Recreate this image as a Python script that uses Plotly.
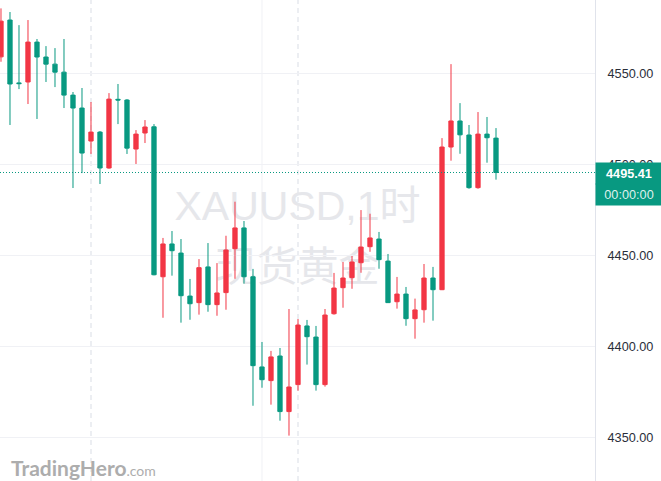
import plotly.graph_objects as go

# hourly XAUUSD candles, left to right (red = up, green = down)
opens = [4558.9, 4579.1, 4544.6, 4545.1, 4567.0, 4558.8, 4554.9, 4550.5, 4537.9, 4530.8,
         4512.7, 4517.6, 4497.9, 4535.6, 4535.2, 4508.3, 4517.1, 4520.5, 4438.2, 4456.2,
         4451.2, 4427.6, 4424.0, 4443.6, 4422.9, 4429.5, 4453.6, 4465.0, 4438.2, 4388.7,
         4381.2, 4394.7, 4364.2, 4379.0, 4411.2, 4405.1, 4379.0, 4417.9, 4432.2, 4437.7,
         4445.9, 4454.7, 4458.9, 4446.8, 4424.5, 4428.7, 4415.2, 4420.1, 4437.5, 4431.1,
         4509.4, 4523.7, 4516.0, 4487.1, 4516.5, 4514.3]
highs = [4585.5, 4583.5, 4576.3, 4579.1, 4568.7, 4564.8, 4563.7, 4568.7, 4539.6, 4541.8,
         4534.1, 4518.2, 4539.0, 4544.0, 4535.7, 4518.7, 4524.2, 4522.0, 4459.5, 4463.3,
         4458.9, 4437.0, 4447.9, 4456.7, 4445.7, 4460.7, 4479.4, 4468.8, 4442.5, 4402.4,
         4397.5, 4399.1, 4420.5, 4415.0, 4414.5, 4411.2, 4420.5, 4440.3, 4446.3, 4449.6,
         4474.8, 4472.8, 4462.8, 4450.7, 4438.1, 4432.6, 4426.2, 4445.2, 4443.6, 4514.3,
         4554.9, 4533.5, 4521.5, 4528.6, 4525.9, 4519.8]
lows = [4556.2, 4521.5, 4541.2, 4533.0, 4524.8, 4545.1, 4542.3, 4530.8, 4486.9, 4495.1,
        4505.6, 4489.1, 4497.5, 4522.0, 4505.6, 4500.1, 4511.6, 4439.0, 4415.7, 4438.8,
        4413.0, 4414.6, 4417.4, 4419.0, 4416.8, 4420.1, 4437.1, 4434.4, 4367.4, 4377.3,
        4368.0, 4359.2, 4351.0, 4375.7, 4390.0, 4375.7, 4377.9, 4417.4, 4421.2, 4431.6,
        4440.4, 4451.9, 4442.6, 4423.8, 4420.7, 4411.3, 4404.2, 4413.0, 4414.1, 4430.9,
        4501.9, 4505.7, 4486.5, 4486.5, 4500.8, 4491.5]
closes = [4578.5, 4544.0, 4544.2, 4567.0, 4558.8, 4554.9, 4550.5, 4537.9, 4530.8, 4506.1,
          4517.6, 4497.9, 4535.7, 4535.2, 4508.8, 4516.5, 4520.4, 4439.3, 4456.2, 4452.5,
          4427.8, 4423.4, 4443.2, 4422.9, 4429.3, 4452.9, 4465.0, 4438.2, 4389.4, 4381.7,
          4394.2, 4364.2, 4377.7, 4411.7, 4405.3, 4379.0, 4417.2, 4432.0, 4437.5, 4446.3,
          4454.5, 4459.5, 4447.6, 4424.0, 4428.7, 4415.2, 4420.0, 4437.5, 4431.1, 4509.4,
          4523.7, 4516.1, 4487.1, 4516.5, 4514.5, 4495.41]
bars = list(range(len(opens)))

last_price = 4495.41
price_ticks = [4350, 4400, 4450, 4500, 4550]
day_breaks = [10, 33]
grid_bars = [29]

UP = "#F23645"
DOWN = "#089981"
GRID = "#f0f1f5"

fig = go.Figure()
fig.add_trace(go.Candlestick(
    x=bars, open=opens, high=highs, low=lows, close=closes,
    increasing=dict(line=dict(color=UP, width=1), fillcolor=UP),
    decreasing=dict(line=dict(color=DOWN, width=1), fillcolor=DOWN),
    whiskerwidth=0, showlegend=False, hoverinfo="skip",
))

shapes = []
for b in grid_bars:
    shapes.append(dict(type="line", xref="x", yref="paper", x0=b, x1=b, y0=0, y1=1,
                       line=dict(color=GRID, width=1), layer="below"))
for b in day_breaks:
    shapes.append(dict(type="line", xref="x", yref="paper", x0=b, x1=b, y0=0, y1=1,
                       line=dict(color="#eceef2", width=2, dash="5px,4px"), layer="below"))

# watermark (below the candles)
for txt, yc in [("XAUUSD,1时", 0.58), ("现货黄金", 0.453)]:
    shapes.append(dict(type="rect", xref="paper", yref="paper", x0=0.1, x1=0.9,
                       y0=yc - 0.05, y1=yc + 0.05, line=dict(width=0),
                       fillcolor="rgba(0,0,0,0)", layer="below",
                       label=dict(text=txt, textposition="middle center",
                                  font=dict(size=41, color="#e6e7eb",
                                            family="Liberation Sans, Noto Sans CJK SC"))))

# last price line
shapes.append(dict(type="line", xref="paper", yref="y", x0=0, x1=1,
                   y0=last_price, y1=last_price,
                   line=dict(color=DOWN, width=1.2, dash="1px,2px")))
# divider inside the price tag
shapes.append(dict(type="line", xref="paper", yref="paper", x0=1, x1=1.111,
                   y0=0.6195, y1=0.6195, line=dict(color="rgba(255,255,255,0.35)", width=1)))

fig.update_layout(
    width=661, height=481,
    margin=dict(l=0, r=66, t=0, b=0, autoexpand=False),
    paper_bgcolor="white", plot_bgcolor="white",
    font=dict(family="Liberation Sans, Arial, sans-serif", size=12, color="#131722"),
    boxgap=0.32,
    shapes=shapes,
    xaxis=dict(range=[-0.11, 66.0], showgrid=False, zeroline=False,
               showticklabels=False, rangeslider=dict(visible=False), fixedrange=True),
    yaxis=dict(side="right", range=[4326.1, 4590.1], tickvals=price_ticks,
               tickformat=".2f", showgrid=True, gridcolor=GRID, zeroline=False,
               showline=True, linecolor="#e0e3eb", ticks="", ticklabelstandoff=9,
               tickfont=dict(size=12.7, color="#2a2e39")),
    annotations=[
        dict(xref="paper", yref="paper", x=1, y=0.6632, xanchor="left", yanchor="top",
             text="<b>4495.41</b>", showarrow=False, width=66, height=21,
             bgcolor=DOWN, borderpad=0, font=dict(size=12.7, color="white")),
        dict(xref="paper", yref="paper", x=1, y=0.6195, xanchor="left", yanchor="top",
             text="00:00:00", showarrow=False, width=66, height=21,
             bgcolor=DOWN, borderpad=0, font=dict(size=12.7, color="rgba(255,255,255,0.88)")),
        dict(xref="paper", yref="paper", x=9 / 595, y=0.029, xanchor="left", yanchor="middle",
             text="<b>TradingHero</b><span style='font-size:14px;font-weight:normal'>.com</span>",
             showarrow=False, font=dict(size=21, color="#adadad", family="Lato, sans-serif")),
    ],
)

fig.write_html("out.html", config={"displayModeBar": False},
               post_script="document.body.style.margin='0';")
